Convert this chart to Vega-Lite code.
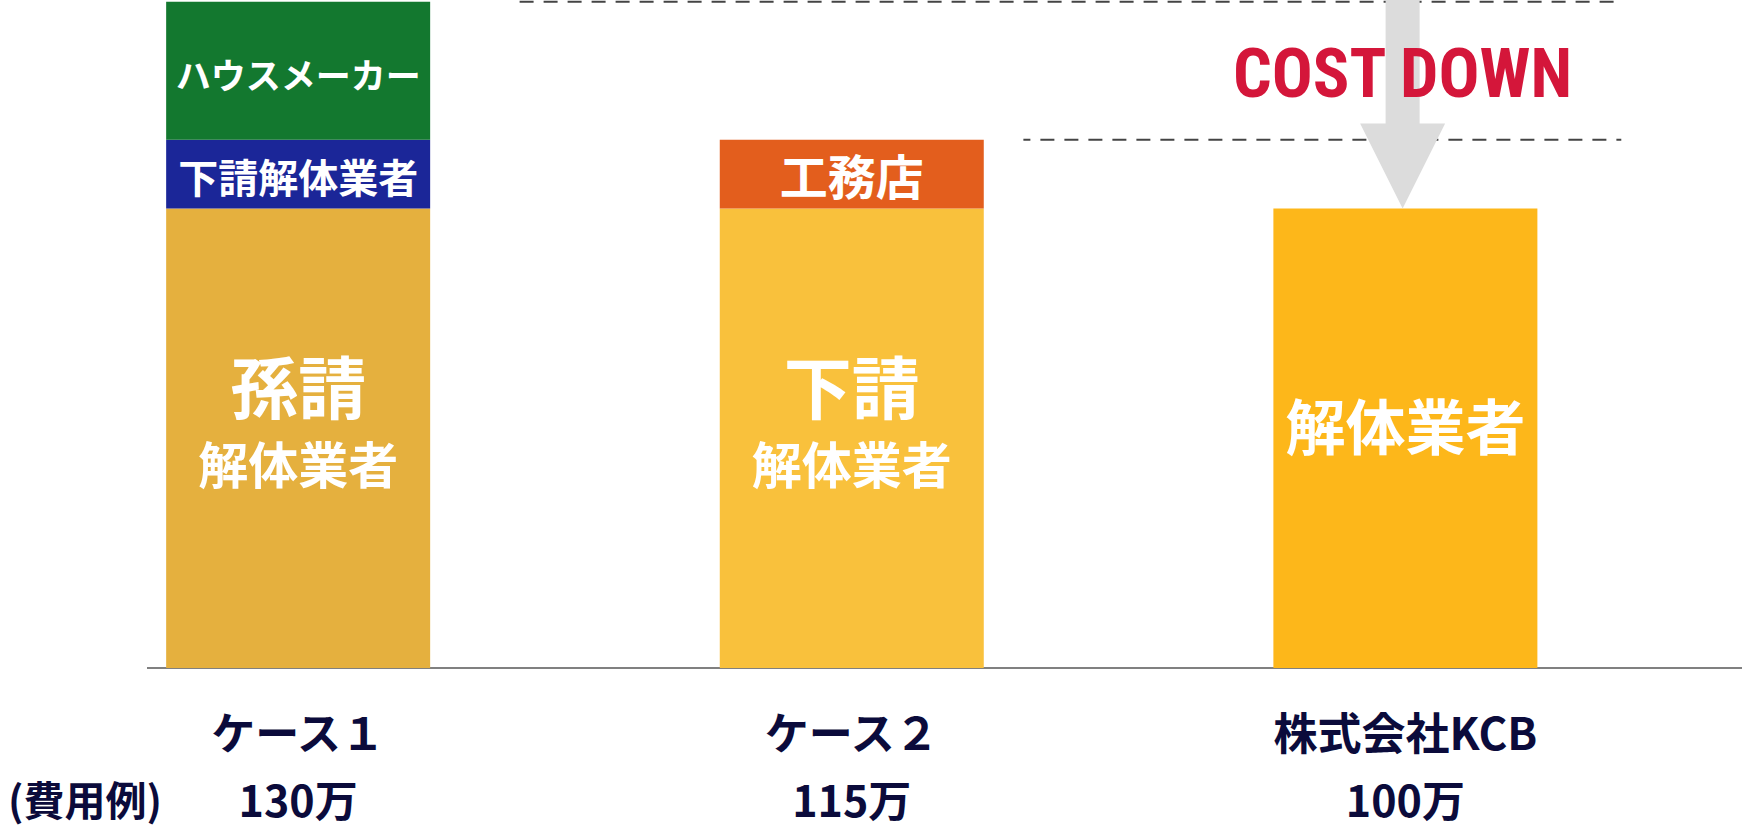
{
  "$schema": "https://vega.github.io/schema/vega-lite/v6.json",
  "width": 1595,
  "height": 668,
  "autosize": "none",
  "padding": {"left": 147, "top": 0, "right": 0, "bottom": 167},
  "background": "white",
  "config": {
    "view": {"stroke": null},
    "axis": {"disable": true},
    "legend": {"disable": true},
    "font": "Noto Sans CJK JP",
    "text": {"font": "Noto Sans CJK JP", "fontWeight": "bold"}
  },
  "datasets": {
    "segments": [
      {"case": 1, "order": 1, "seg": "孫請 解体業者", "line1": "孫請", "line2": "解体業者", "value": 100},
      {"case": 1, "order": 2, "seg": "下請解体業者", "value": 15},
      {"case": 1, "order": 3, "seg": "ハウスメーカー", "value": 30},
      {"case": 2, "order": 1, "seg": "下請 解体業者", "line1": "下請", "line2": "解体業者", "value": 100},
      {"case": 2, "order": 2, "seg": "工務店", "value": 15},
      {"case": 3, "order": 1, "seg": "解体業者", "value": 100}
    ],
    "cases": [
      {"case": 1, "name": "ケース１", "cost": "130万"},
      {"case": 2, "name": "ケース２", "cost": "115万"},
      {"case": 3, "name": "株式会社KCB", "cost": "100万"}
    ]
  },
  "layer": [
    {
      "data": {"values": [{}]},
      "mark": {"type": "rule", "color": "#808080", "strokeWidth": 2},
      "encoding": {
        "y": {"datum": 0, "type": "quantitative", "scale": {"domain": [0, 145.4], "nice": false, "zero": false}}
      }
    },
    {
      "data": {"name": "segments"},
      "transform": [
        {"stack": "value", "groupby": ["case"], "sort": [{"field": "order"}], "as": ["v0", "v1"]},
        {"calculate": "(datum.v0 + datum.v1) / 2", "as": "mid"}
      ],
      "encoding": {
        "x": {"field": "case", "type": "quantitative", "scale": {"domain": [0.736, 3.599], "nice": false, "zero": false}}
      },
      "layer": [
        {
          "mark": {"type": "bar", "width": 264},
          "encoding": {
            "y": {"field": "v0", "type": "quantitative", "scale": {"domain": [0, 145.4], "nice": false, "zero": false}},
            "y2": {"field": "v1"},
            "color": {
              "field": "seg",
              "type": "nominal",
              "scale": {
                "domain": ["孫請 解体業者", "下請解体業者", "ハウスメーカー", "下請 解体業者", "工務店", "解体業者"],
                "range": ["#e5b03e", "#1b2698", "#13782f", "#f9c13c", "#e35e1d", "#fdb71a"]
              },
              "legend": null
            }
          }
        },
        {
          "transform": [{"filter": "datum.order > 1"}],
          "mark": {"type": "text", "color": "white", "dy": 7},
          "encoding": {
            "y": {"field": "mid", "type": "quantitative"},
            "text": {"field": "seg"},
            "size": {
              "field": "seg",
              "type": "nominal",
              "scale": {"type": "ordinal", "domain": ["ハウスメーカー", "下請解体業者", "工務店"], "range": [35, 40, 48]},
              "legend": null
            }
          }
        },
        {
          "transform": [{"filter": "isValid(datum.line1)"}],
          "mark": {"type": "text", "color": "white", "fontSize": 68, "dy": -44},
          "encoding": {
            "y": {"field": "mid", "type": "quantitative"},
            "text": {"field": "line1"}
          }
        },
        {
          "transform": [{"filter": "isValid(datum.line2)"}],
          "mark": {"type": "text", "color": "white", "fontSize": 50, "dy": 31},
          "encoding": {
            "y": {"field": "mid", "type": "quantitative"},
            "text": {"field": "line2"}
          }
        },
        {
          "transform": [{"filter": "datum.case == 3"}],
          "mark": {"type": "text", "color": "white", "fontSize": 60, "dy": -6},
          "encoding": {
            "y": {"field": "mid", "type": "quantitative"},
            "text": {"field": "seg"}
          }
        }
      ]
    },
    {
      "data": {"values": [{}]},
      "mark": {"type": "rule", "color": "#444444", "strokeWidth": 2, "strokeDash": [14, 10]},
      "encoding": {
        "x": {"datum": 1.40, "type": "quantitative"},
        "x2": {"datum": 3.39},
        "y": {"datum": 145, "type": "quantitative"}
      }
    },
    {
      "data": {"values": [{}]},
      "mark": {"type": "rule", "color": "#444444", "strokeWidth": 2, "strokeDash": [14, 10], "strokeDashOffset": 7},
      "encoding": {
        "x": {"datum": 2.31, "type": "quantitative"},
        "x2": {"datum": 3.39},
        "y": {"datum": 115, "type": "quantitative"}
      }
    },
    {
      "data": {"values": [{}]},
      "mark": {"type": "rule", "color": "#dcdcdc", "strokeWidth": 34, "strokeCap": "butt", "y2Offset": -60},
      "encoding": {
        "x": {"datum": 2.995, "type": "quantitative"},
        "y": {"datum": 145.4, "type": "quantitative"},
        "y2": {"datum": 100}
      }
    },
    {
      "data": {"values": [{}]},
      "mark": {
        "type": "point",
        "filled": true,
        "opacity": 1,
        "color": "#dcdcdc",
        "shape": "M-1,-2L1,-2L0,0Z",
        "size": 7225
      },
      "encoding": {
        "x": {"datum": 2.995, "type": "quantitative"},
        "y": {"datum": 100, "type": "quantitative"}
      }
    },
    {
      "data": {"values": [{}]},
      "mark": {
        "type": "text",
        "text": "COST DOWN",
        "color": "#d4163a",
        "font": "Roboto Condensed, Liberation Sans Narrow, DejaVu Sans Condensed, sans-serif",
        "fontWeight": "bold",
        "fontSize": 68,
        "baseline": "alphabetic",
        "align": "center"
      },
      "encoding": {
        "x": {"datum": 2.995, "type": "quantitative"},
        "y": {"datum": 124.3, "type": "quantitative"}
      }
    },
    {
      "data": {"name": "cases"},
      "layer": [
        {
          "mark": {"type": "text", "color": "#0b0b3b", "fontSize": 44, "dy": 69},
          "encoding": {
            "x": {"field": "case", "type": "quantitative"},
            "y": {"datum": 0, "type": "quantitative"},
            "text": {"field": "name"}
          }
        },
        {
          "mark": {"type": "text", "color": "#0b0b3b", "fontSize": 43, "dy": 136},
          "encoding": {
            "x": {"field": "case", "type": "quantitative"},
            "y": {"datum": 0, "type": "quantitative"},
            "text": {"field": "cost"}
          }
        }
      ]
    },
    {
      "data": {"values": [{}]},
      "mark": {"type": "text", "text": "(費用例)", "color": "#0b0b3b", "fontSize": 41, "dy": 136},
      "encoding": {
        "x": {"datum": 0.615, "type": "quantitative"},
        "y": {"datum": 0, "type": "quantitative"}
      }
    }
  ]
}
